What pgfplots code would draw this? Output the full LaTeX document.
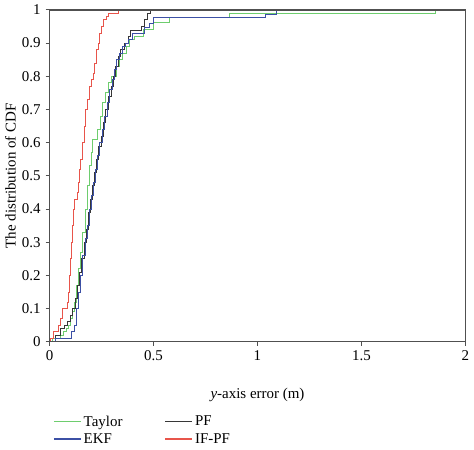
\documentclass[border=0pt]{standalone}
\usepackage{fontspec}
\setmainfont{Liberation Serif}
\usepackage{pgfplots}
\pgfplotsset{compat=1.18}

\definecolor{cTaylor}{RGB}{110,205,110}
\definecolor{cEKF}{RGB}{60,80,165}
\definecolor{cPF}{RGB}{55,55,55}
\definecolor{cIFPF}{RGB}{232,85,75}
\definecolor{axisgray}{RGB}{80,80,80}

\begin{document}
\fontsize{15}{17}\selectfont
\begin{tikzpicture}
\begin{axis}[
    width=417pt, height=333pt,
    scale only axis,
    xmin=0, xmax=2, ymin=0, ymax=1,
    xtick={0,0.5,1,1.5,2},
    xticklabels={0,0.5,1,1.5,2},
    ytick={0,0.1,0.2,0.3,0.4,0.5,0.6,0.7,0.8,0.9,1},
    yticklabels={0,0.1,0.2,0.3,0.4,0.5,0.6,0.7,0.8,0.9,1},
    tick align=outside,
    xtick pos=bottom, ytick pos=left,
    major tick length=4pt,
    every tick/.style={axisgray, line width=1pt},
    axis line style={axisgray, line width=1.3pt},
    axis on top,
    xlabel={\textit{y}-axis error (m)},
    ylabel={The distribution of CDF},
    xlabel style={yshift=-17pt},
    ylabel style={yshift=-4pt},
    /pgf/number format/assume math mode=true,
    legend columns=2,
    legend style={at={(axis description cs:0,-0.21)}, anchor=north west,
        draw=none, fill=none, row sep=1pt,
        /tikz/every even column/.append style={column sep=40pt}},
    legend cell align=left,
    legend image code/.code={\draw[#1] (0pt,0.5pt) -- (27pt,0.5pt);},
]
% Taylor
\addplot[color=cTaylor, line width=0.9pt, const plot mark left, forget plot] coordinates {
(0,0) (0.015,0.01) (0.05,0.02) (0.065,0.03) (0.08,0.04) (0.09,0.05)
(0.1,0.07) (0.11,0.09) (0.12,0.12) (0.13,0.17) (0.14,0.22) (0.15,0.27)
(0.16,0.33) (0.17,0.4) (0.18,0.47) (0.19,0.53) (0.2,0.57) (0.207,0.61)
(0.232,0.64) (0.245,0.68) (0.255,0.72) (0.27,0.75) (0.285,0.78) (0.295,0.8)
(0.32,0.83) (0.335,0.85) (0.35,0.87) (0.37,0.89) (0.385,0.91) (0.41,0.92)
(0.45,0.94) (0.5,0.962) (0.575,0.977) (0.865,0.988) (1.855,1.0) (2,1.0)
};
% PF
\addplot[color=cPF, line width=0.9pt, const plot mark left, forget plot] coordinates {
(0,0) (0.03,0.02) (0.05,0.04) (0.07,0.05) (0.087,0.06) (0.1,0.08)
(0.11,0.1) (0.125,0.13) (0.135,0.17) (0.145,0.21) (0.155,0.25) (0.165,0.3)
(0.175,0.34) (0.185,0.39) (0.195,0.43) (0.205,0.47) (0.215,0.51) (0.225,0.55)
(0.235,0.59) (0.25,0.62) (0.26,0.66) (0.27,0.7) (0.285,0.74) (0.295,0.77)
(0.305,0.8) (0.315,0.83) (0.33,0.86) (0.34,0.88) (0.36,0.9) (0.38,0.92)
(0.39,0.937) (0.44,0.95) (0.455,0.97) (0.47,0.99) (0.484,1.0) (2,1.0)
};
% EKF
\addplot[color=cEKF, line width=0.9pt, const plot mark left, forget plot] coordinates {
(0,0) (0.03,0.01) (0.103,0.03) (0.12,0.05) (0.13,0.1) (0.14,0.15)
(0.15,0.2) (0.16,0.26) (0.17,0.31) (0.18,0.35) (0.19,0.4) (0.2,0.44)
(0.21,0.48) (0.22,0.52) (0.23,0.56) (0.24,0.6) (0.255,0.64) (0.265,0.68)
(0.28,0.72) (0.29,0.76) (0.3,0.79) (0.31,0.82) (0.32,0.85) (0.335,0.87)
(0.35,0.89) (0.365,0.9) (0.38,0.91) (0.4,0.93) (0.455,0.947) (0.48,0.96)
(0.5,0.977) (1.04,0.987) (1.09,1.0) (2,1.0)
};
% IF-PF
\addplot[color=cIFPF, line width=0.9pt, const plot mark left, forget plot] coordinates {
(0,0) (0.005,0.01) (0.02,0.03) (0.04,0.05) (0.05,0.07) (0.06,0.1)
(0.085,0.12) (0.09,0.15) (0.095,0.2) (0.1,0.25) (0.105,0.3) (0.11,0.35)
(0.115,0.4) (0.12,0.43) (0.135,0.45) (0.14,0.48) (0.145,0.52) (0.15,0.55)
(0.158,0.6) (0.165,0.65) (0.17,0.7) (0.18,0.73) (0.19,0.77) (0.2,0.79)
(0.21,0.81) (0.215,0.84) (0.225,0.88) (0.235,0.9) (0.24,0.93) (0.25,0.95)
(0.26,0.97) (0.275,0.98) (0.285,0.99) (0.33,1.0) (2,1.0)
};
\addlegendimage{color=cTaylor, line width=1.9pt}
\addlegendimage{color=cPF, line width=1.9pt}
\addlegendimage{color=cEKF, line width=1.5pt}
\addlegendimage{color=cIFPF, line width=1.5pt}
\legend{Taylor, PF, EKF, IF-PF}
\end{axis}
\end{tikzpicture}
\end{document}
